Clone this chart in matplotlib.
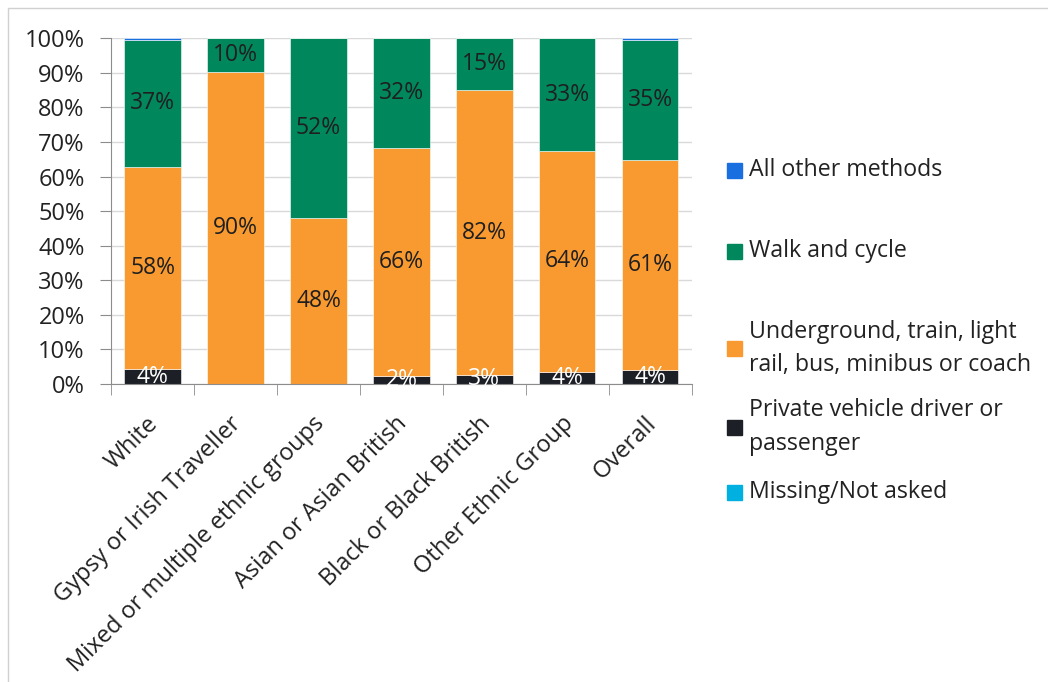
import numpy as np
import matplotlib
matplotlib.use("Agg")
import matplotlib.pyplot as plt
import matplotlib.transforms as mtransforms
from matplotlib.patches import Rectangle
from matplotlib.ticker import FixedLocator, PercentFormatter

plt.rcParams['font.family'] = ['Open Sans', 'DejaVu Sans']

groups = ['White', 'Gypsy or Irish Traveller', 'Mixed or multiple ethnic groups',
          'Asian or Asian British', 'Black or Black British', 'Other Ethnic Group', 'Overall']

# share of travel method per group, in percent
missing = [0.0, 0.0, 0.0, 0.0, 0.0, 0.0, 0.0]
private = [4.3, 0.0, 0.0, 2.4, 2.6, 3.6, 3.9]
public = [58.4, 90.3, 48.0, 65.8, 82.4, 63.8, 61.0]
walk = [36.9, 9.7, 52.0, 31.8, 15.0, 32.6, 34.7]
other = [0.4, 0.0, 0.0, 0.0, 0.0, 0.0, 0.4]

series = [
    ('Missing/Not asked', missing, '#00b0e0', None),
    ('Private vehicle driver or\npassenger', private, '#1c1f26', 'white'),
    ('Underground, train, light\nrail, bus, minibus or coach', public, '#f89a30', '#1f1f1f'),
    ('Walk and cycle', walk, '#00875b', '#1f1f1f'),
    ('All other methods', other, '#1a6fe0', None),
]

fig = plt.figure(figsize=(10.48, 6.82), dpi=100)
ax = fig.add_axes([0.106, 0.437, 0.554, 0.507])

x = np.arange(len(groups))
bottom = np.zeros(len(groups))
for name, vals, col, txtcol in series:
    vals = np.array(vals)
    ax.bar(x, vals, 0.68, bottom=bottom, color=col, edgecolor='white', linewidth=0.4, zorder=2)
    if txtcol is not None:
        for xi, b, v in zip(x, bottom, vals):
            if v > 0:
                ax.text(xi, b + v / 2, f'{round(v)}%', ha='center', va='center',
                        fontsize=16.5, color=txtcol, zorder=3)
    bottom += vals

ax.set_xlim(-0.5, len(groups) - 0.5)
ax.set_ylim(0, 100)
ax.yaxis.set_major_locator(FixedLocator(np.arange(0, 101, 10)))
ax.yaxis.set_major_formatter(PercentFormatter(decimals=0))
ax.grid(axis='y', color='#d9d9d9', linewidth=1, zorder=0)
ax.set_axisbelow(True)

ax.set_xticks(x)
ax.set_xticklabels(groups, rotation=45, ha='right', va='top', rotation_mode='anchor', fontsize=17, color='#222222')
ax.xaxis.set_minor_locator(FixedLocator(np.arange(-0.5, len(groups), 1)))
ax.tick_params(axis='x', which='major', length=0, pad=20)
ax.tick_params(axis='x', which='minor', length=8, color='#8c8c8c')
ax.tick_params(axis='y', length=8, color='#8c8c8c', labelsize=17, labelcolor='#222222', pad=11)

# nudge the rotated category labels a little to the left
shift = mtransforms.ScaledTranslation(-6 / 100, 0, fig.dpi_scale_trans)
for lab in ax.get_xticklabels():
    lab.set_transform(lab.get_transform() + shift)

for s in ['top', 'right']:
    ax.spines[s].set_visible(False)
for s in ['left', 'bottom']:
    ax.spines[s].set_color('#8c8c8c')

# legend drawn on the right, top entry first
leg_y = [170, 251, 348, 427, 492]
H = 682
for (name, vals, col, txtcol), yp in zip(series[::-1], leg_y):
    fig.patches.append(Rectangle((727 / 1048, 1 - (yp + 7.5) / H), 15 / 1048, 15 / H,
                                 transform=fig.transFigure, color=col))
    fig.text(749 / 1048, 1 - yp / H, name, ha='left', va='center', fontsize=16.7,
             color='#222222', linespacing=1.5)

# outer frame
fig.patches.append(Rectangle((8 / 1048, -0.1), 1.2, 1 - 8 / H + 0.1, transform=fig.transFigure,
                             fill=False, edgecolor='#d0d0d0', linewidth=1))

fig.savefig('out.png', dpi=100)
